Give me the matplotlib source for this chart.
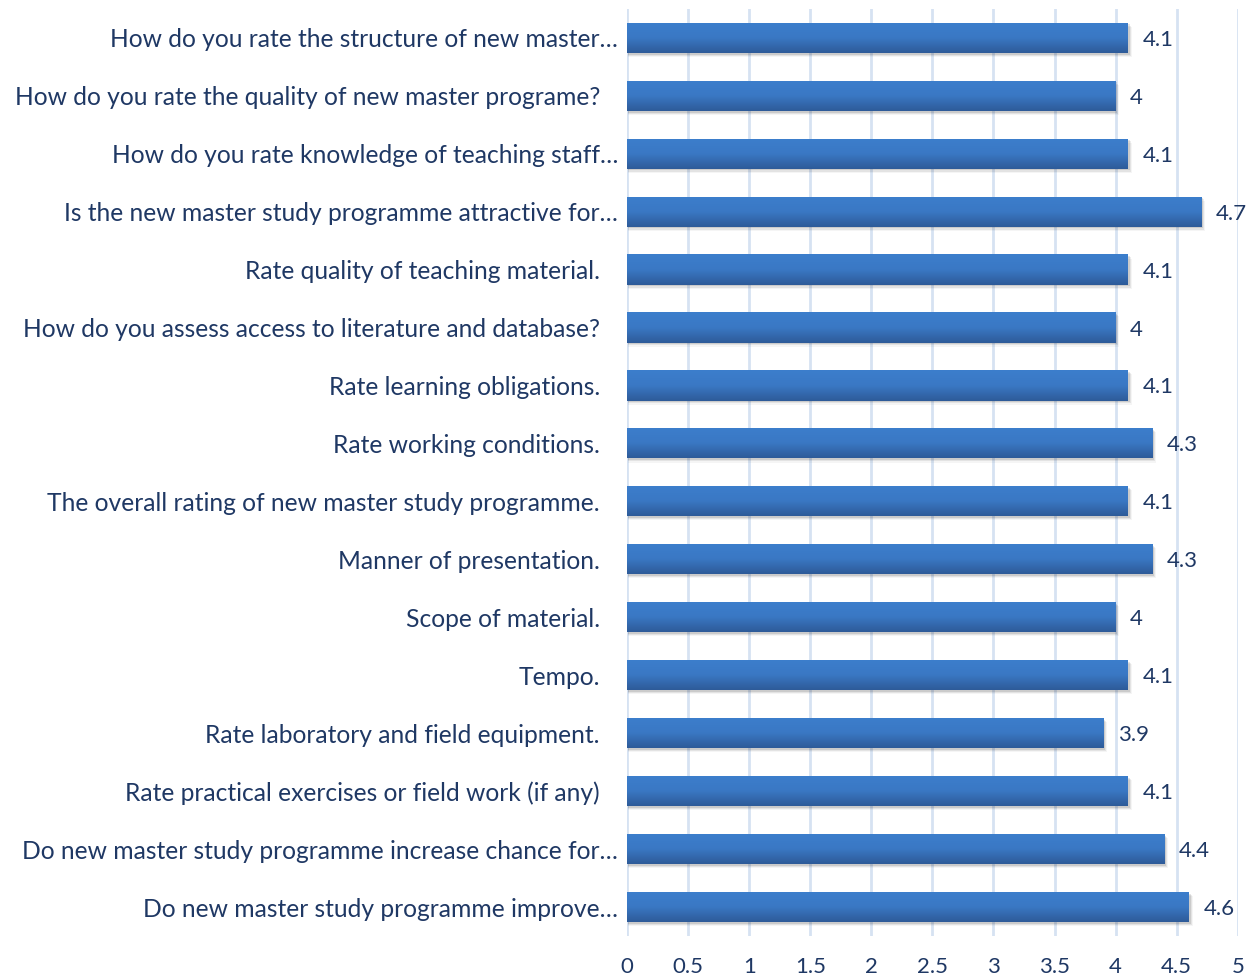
import matplotlib
matplotlib.use("Agg")
import matplotlib.pyplot as plt
import matplotlib.transforms as mtransforms
import numpy as np
from matplotlib.patches import Rectangle
from matplotlib.colors import LinearSegmentedColormap

categories = [
    "How do you rate the structure of new master…",
    "How do you rate the quality of new master programe?",
    "How do you rate knowledge of teaching staff…",
    "Is the new master study programme attractive for…",
    "Rate quality of teaching material.",
    "How do you assess access to literature and database?",
    "Rate learning obligations.",
    "Rate working conditions.",
    "The overall rating of new master study programme.",
    "Manner of presentation.",
    "Scope of material.",
    "Tempo.",
    "Rate laboratory and field equipment.",
    "Rate practical exercises or field work (if any)",
    "Do new master study programme increase chance for…",
    "Do new master study programme improve…",
]
values = [4.1, 4.0, 4.1, 4.7, 4.1, 4.0, 4.1, 4.3, 4.1, 4.3, 4.0, 4.1, 3.9, 4.1, 4.4, 4.6]
xticks = [0, 0.5, 1, 1.5, 2, 2.5, 3, 3.5, 4, 4.5, 5]

plt.rcParams['font.family'] = ['Lato', 'DejaVu Sans']
text_color = '#1F3864'

fig = plt.figure(figsize=(12.49, 9.76), dpi=100)
ax = fig.add_axes([0.502, 0.041, 0.489, 0.950])

n = len(categories)
y = np.arange(n)
h = 0.52
ax.set_xlim(0, 5)
ax.set_ylim(n - 0.5, -0.5)

cmap = LinearSegmentedColormap.from_list('g', ['#3C7ECC', '#3A78C4', '#2E5B99'])
grad = np.linspace(0, 1, 64).reshape(-1, 1)

for yi, v in zip(y, values):
    # shadow
    for k, a in enumerate([0.10, 0.07, 0.04]):
        sh = Rectangle((0.01, yi - h / 2 + 0.03 + 0.02 * k), v + 0.005 + 0.008 * k, h,
                       facecolor='#000000', alpha=a, edgecolor='none', zorder=2)
        ax.add_patch(sh)
    bar = ax.barh(yi, v, height=h, color='#3A72BE', zorder=3)[0]
    im = ax.imshow(grad, cmap=cmap, aspect='auto',
                   extent=(0, v, yi + h / 2, yi - h / 2), zorder=4, interpolation='bilinear')
    im.set_clip_path(bar)
    lbl = f"{v:g}"
    ax.text(v + 0.12, yi, lbl, va='center_baseline', ha='left', fontsize=16,
            color=text_color, zorder=5)

# category labels (ellipsis-truncated ones overhang like in the source)
blend = mtransforms.blended_transform_factory(ax.transAxes, ax.transData)
for yi, c in zip(y, categories):
    off = -9 if c.endswith("…") else -27
    tr = blend + mtransforms.ScaledTranslation(off / 100, 0, fig.dpi_scale_trans)
    ax.text(0, yi, c, transform=tr, ha='right', va='center_baseline',
            fontsize=17.7, color=text_color, clip_on=False)

ax.set_yticks(y)
ax.set_yticklabels([])
ax.set_xticks(xticks)
ax.set_xticklabels([f"{t:g}" for t in xticks], fontsize=16, color=text_color)
ax.tick_params(axis='both', length=0)
ax.tick_params(axis='x', pad=15)
ax.grid(axis='x', color='#D6E2F2', linewidth=2, zorder=0)
ax.grid(axis='y', visible=False)
ax.set_axisbelow(True)
for s in ax.spines.values():
    s.set_visible(False)

fig.savefig('out.png', dpi=100)
